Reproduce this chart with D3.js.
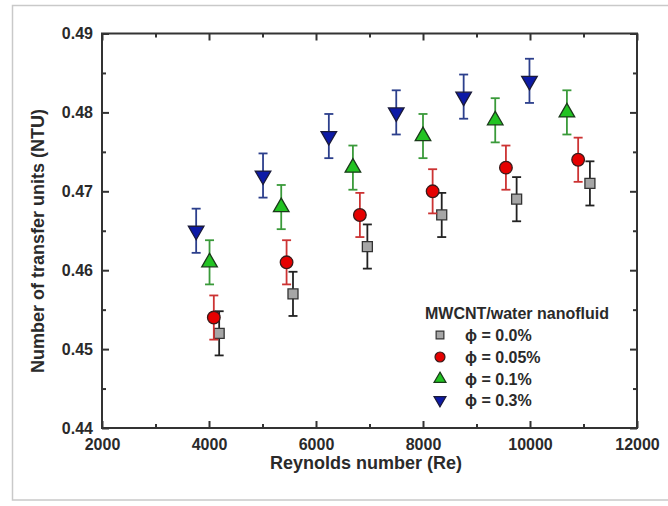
<!DOCTYPE html>
<html>
<head>
<meta charset="utf-8">
<script src="https://cdn.jsdelivr.net/npm/d3@7"></script>
<style>
  html, body { margin: 0; padding: 0; background: #fff; }
  svg { display: block; }
  text { font-family: "Liberation Sans", Arial, sans-serif; font-weight: bold; fill: #2a2a2a; }
</style>
</head>
<body>
<svg id="chart" width="668" height="506"></svg>
<script>
// NTU vs Reynolds number for MWCNT/water nanofluid at four volume fractions
const legendTitle = "MWCNT/water nanofluid";
const seriesLabels = ["ϕ = 0.0%", "ϕ = 0.05%", "ϕ = 0.1%", "ϕ = 0.3%"];

const re00  = [4190, 5570, 6960, 8350, 9750, 11120];
const ntu00 = [0.452, 0.457, 0.463, 0.467, 0.469, 0.471];

const re005  = [4090, 5450, 6820, 8180, 9550, 10900];
const ntu005 = [0.454, 0.461, 0.467, 0.470, 0.473, 0.474];

const re01  = [4010, 5350, 6690, 8000, 9350, 10690];
const ntu01 = [0.461, 0.468, 0.473, 0.477, 0.479, 0.480];

const re03  = [3760, 5010, 6240, 7500, 8760, 9990];
const ntu03 = [0.465, 0.472, 0.477, 0.480, 0.482, 0.484];

const ntuError = 0.0028;

const xTicks = [2000, 4000, 6000, 8000, 10000, 12000];
const xMinorTicks = [3000, 5000, 7000, 9000, 11000];
const yTicks = [0.44, 0.45, 0.46, 0.47, 0.48, 0.49];
const yMinorTicks = [0.445, 0.455, 0.465, 0.475, 0.485];

const svg = d3.select("#chart");

// light frame around the figure
svg.append("rect")
  .attr("x", 12.5).attr("y", 5.5)
  .attr("width", 680).attr("height", 494.5)
  .attr("fill", "none").attr("stroke", "#c9c9c9").attr("stroke-width", 1.5);

const plot = { left: 102, right: 637, top: 33.5, bottom: 428 };

const x = d3.scaleLinear().domain([2000, 12000]).range([plot.left, plot.right]);
const y = d3.scaleLinear().domain([0.44, 0.49]).range([plot.bottom, plot.top]);

const axisColor = "#333";

function styleAxis(g) {
  g.select(".domain").remove();
  g.selectAll(".tick line").attr("stroke", axisColor).attr("stroke-width", 2);
  g.selectAll(".tick text")
    .style("font-size", "16px")
    .style("font-family", "'Liberation Sans', Arial, sans-serif")
    .style("font-weight", "bold")
    .attr("fill", "#2a2a2a");
}

// bottom axis with labels
svg.append("g")
  .attr("transform", `translate(0,${plot.bottom})`)
  .call(d3.axisBottom(x).tickValues(xTicks).tickSize(-7).tickPadding(11).tickFormat(d3.format("d")))
  .call(styleAxis);
svg.append("g")
  .attr("transform", `translate(0,${plot.bottom})`)
  .call(d3.axisBottom(x).tickValues(xMinorTicks).tickSize(-4).tickFormat(""))
  .call(styleAxis);

// top mirror ticks
svg.append("g")
  .attr("transform", `translate(0,${plot.top})`)
  .call(d3.axisTop(x).tickValues(xTicks).tickSize(-7).tickFormat(""))
  .call(styleAxis);
svg.append("g")
  .attr("transform", `translate(0,${plot.top})`)
  .call(d3.axisTop(x).tickValues(xMinorTicks).tickSize(-4).tickFormat(""))
  .call(styleAxis);

// left axis with labels
svg.append("g")
  .attr("transform", `translate(${plot.left},0)`)
  .call(d3.axisLeft(y).tickValues(yTicks).tickSize(-7).tickPadding(9).tickFormat(d3.format(".2f")))
  .call(styleAxis);
svg.append("g")
  .attr("transform", `translate(${plot.left},0)`)
  .call(d3.axisLeft(y).tickValues(yMinorTicks).tickSize(-4).tickFormat(""))
  .call(styleAxis);

// right mirror ticks
svg.append("g")
  .attr("transform", `translate(${plot.right},0)`)
  .call(d3.axisRight(y).tickValues(yTicks).tickSize(-7).tickFormat(""))
  .call(styleAxis);
svg.append("g")
  .attr("transform", `translate(${plot.right},0)`)
  .call(d3.axisRight(y).tickValues(yMinorTicks).tickSize(-4).tickFormat(""))
  .call(styleAxis);

// plot frame
svg.append("rect")
  .attr("x", plot.left).attr("y", plot.top)
  .attr("width", plot.right - plot.left).attr("height", plot.bottom - plot.top)
  .attr("fill", "none").attr("stroke", axisColor).attr("stroke-width", 2);

// axis titles
svg.append("text")
  .attr("x", 366).attr("y", 469)
  .attr("text-anchor", "middle")
  .style("font-size", "18px")
  .text("Reynolds number (Re)");

svg.append("text")
  .attr("transform", "translate(44,241) rotate(-90)")
  .attr("text-anchor", "middle")
  .style("font-size", "18px")
  .text("Number of transfer units (NTU)");

// series definitions
const series = [
  { label: seriesLabels[0], re: re00,  ntu: ntu00,  shape: d3.symbolSquare,   rotate: 0,   size: 100, legendSize: 60,
    fill: "#a6a6a6", stroke: "#333", bar: "#222" },
  { label: seriesLabels[1], re: re005, ntu: ntu005, shape: d3.symbolCircle,   rotate: 0,   size: 125, legendSize: 78,
    fill: "#e50000", stroke: "#3a1a1a", bar: "#cc3333" },
  { label: seriesLabels[2], re: re01,  ntu: ntu01,  shape: d3.symbolTriangle, rotate: 0,   size: 105, legendSize: 62,
    fill: "#22c322", stroke: "#1a3a1a", bar: "#3a9a3a" },
  { label: seriesLabels[3], re: re03,  ntu: ntu03,  shape: d3.symbolTriangle, rotate: 180, size: 105, legendSize: 62,
    fill: "#0d1aa6", stroke: "#1a1a3a", bar: "#2c3f8c" }
];

const capHalf = 4.5;

series.forEach(s => {
  const pts = s.re.map((r, i) => ({ re: r, ntu: s.ntu[i] }));
  const g = svg.append("g");

  // error bars
  const eb = g.selectAll("g.eb").data(pts).enter().append("g")
    .attr("stroke", s.bar).attr("stroke-width", 1.8).attr("fill", "none");
  eb.append("line")
    .attr("x1", d => x(d.re)).attr("x2", d => x(d.re))
    .attr("y1", d => y(d.ntu + ntuError)).attr("y2", d => y(d.ntu - ntuError));
  eb.append("line")
    .attr("x1", d => x(d.re) - capHalf).attr("x2", d => x(d.re) + capHalf)
    .attr("y1", d => y(d.ntu + ntuError)).attr("y2", d => y(d.ntu + ntuError));
  eb.append("line")
    .attr("x1", d => x(d.re) - capHalf).attr("x2", d => x(d.re) + capHalf)
    .attr("y1", d => y(d.ntu - ntuError)).attr("y2", d => y(d.ntu - ntuError));

  // markers
  g.selectAll("path.mk").data(pts).enter().append("path")
    .attr("d", d3.symbol().type(s.shape).size(s.size))
    .attr("transform", d => `translate(${x(d.re)},${y(d.ntu)}) rotate(${s.rotate})`)
    .attr("fill", s.fill).attr("stroke", s.stroke).attr("stroke-width", 1.3);
});

// legend
const legend = svg.append("g");
legend.append("text")
  .attr("x", 517).attr("y", 319)
  .attr("text-anchor", "middle")
  .style("font-size", "16px")
  .text(legendTitle);

const legendRowY = [335, 357, 379, 400];
series.forEach((s, i) => {
  legend.append("path")
    .attr("d", d3.symbol().type(s.shape).size(s.legendSize))
    .attr("transform", `translate(440,${legendRowY[i]}) rotate(${s.rotate})`)
    .attr("fill", s.fill).attr("stroke", s.stroke).attr("stroke-width", 1.2);
  legend.append("text")
    .attr("x", 465).attr("y", legendRowY[i] + 6)
    .style("font-size", "16px")
    .text(s.label);
});
</script>
</body>
</html>
